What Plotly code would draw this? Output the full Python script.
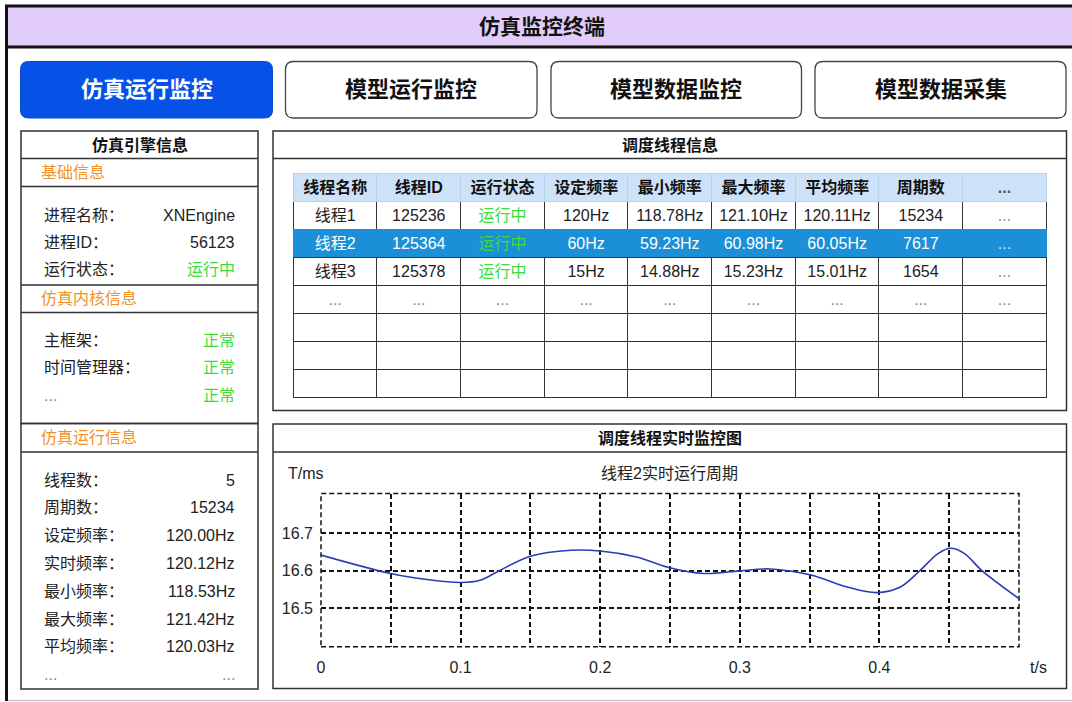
import plotly.graph_objects as go

W, H = 1072, 702
FONT = "Liberation Sans, Noto Sans CJK SC, sans-serif"

# ---------------- data ----------------
app_title = "仿真监控终端"
tabs = ["仿真运行监控", "模型运行监控", "模型数据监控", "模型数据采集"]

engine_title = "仿真引擎信息"
basic_title = "基础信息"
basic_labels = ["进程名称：", "进程ID：", "运行状态："]
basic_values = ["XNEngine", "56123", "运行中"]
kernel_title = "仿真内核信息"
kernel_labels = ["主框架：", "时间管理器：", "..."]
kernel_values = ["正常", "正常", "正常"]
run_title = "仿真运行信息"
run_labels = ["线程数：", "周期数：", "设定频率：", "实时频率：", "最小频率：", "最大频率：", "平均频率：", "..."]
run_values = ["5", "15234", "120.00Hz", "120.12Hz", "118.53Hz", "121.42Hz", "120.03Hz", "..."]

table_title = "调度线程信息"
columns = ["线程名称", "线程ID", "运行状态", "设定频率", "最小频率", "最大频率", "平均频率", "周期数", "..."]
thread_names = ["线程1", "线程2", "线程3", "...", "", "", ""]
thread_ids = ["125236", "125364", "125378", "...", "", "", ""]
thread_status = ["运行中", "运行中", "运行中", "...", "", "", ""]
set_freq = ["120Hz", "60Hz", "15Hz", "...", "", "", ""]
min_freq = ["118.78Hz", "59.23Hz", "14.88Hz", "...", "", "", ""]
max_freq = ["121.10Hz", "60.98Hz", "15.23Hz", "...", "", "", ""]
avg_freq = ["120.11Hz", "60.05Hz", "15.01Hz", "...", "", "", ""]
cycle_counts = ["15234", "7617", "1654", "...", "", "", ""]
more_cols = ["...", "...", "...", "...", "", "", ""]
selected_row = 1

chart_panel_title = "调度线程实时监控图"
chart_title = "线程2实时运行周期"
y_unit = "T/ms"
x_unit = "t/s"
t_s = [0.0, 0.05, 0.076, 0.1, 0.114, 0.126, 0.15, 0.179, 0.2, 0.226, 0.249,
       0.274, 0.3, 0.322, 0.351, 0.377, 0.398, 0.415, 0.428, 0.442, 0.451,
       0.461, 0.473, 0.5]
period_ms = [16.642, 16.593, 16.577, 16.569, 16.575, 16.597, 16.639, 16.655, 16.653, 16.637, 16.609,
             16.593, 16.600, 16.605, 16.589, 16.557, 16.542, 16.557, 16.597, 16.646, 16.660,
             16.646, 16.602, 16.526]
x_grid = [0, 0.05, 0.1, 0.15, 0.2, 0.25, 0.3, 0.35, 0.4, 0.45, 0.5]
x_ticktext = ["0", "", "0.1", "", "0.2", "", "0.3", "", "0.4", "", ""]
y_ticks = [16.5, 16.6, 16.7]
y_range = [16.398, 16.806]

# ---------------- colours ----------------
BLUE_TAB = "#0652e6"
LAVENDER = "#e2cdfa"
BORDER = "#333333"
ORANGE = "#f0922a"
GREEN = "#3cdc3c"
TEXT = "#222222"
GREY = "#8a8a8a"
HEAD_FILL = "#cde2f8"
SEL_FILL = "#1b8fd7"


def px(x):
    return x / W


def py(y):
    return 1 - y / H


shapes = []
annotations = []


def rect(x0, y0, x1, y1, line="#333", lw=1.5, fill=None):
    shapes.append(dict(type="rect", xref="paper", yref="paper",
                       x0=px(x0), x1=px(x1), y0=py(y1), y1=py(y0),
                       line=dict(color=line, width=lw),
                       fillcolor=fill if fill else "rgba(0,0,0,0)", layer="below"))


def hline(x0, x1, y, color="#333", lw=1.5):
    shapes.append(dict(type="line", xref="paper", yref="paper",
                       x0=px(x0), x1=px(x1), y0=py(y), y1=py(y),
                       line=dict(color=color, width=lw), layer="below"))


def vline(x, y0, y1, color="#333", lw=1.5):
    shapes.append(dict(type="line", xref="paper", yref="paper",
                       x0=px(x), x1=px(x), y0=py(y0), y1=py(y1),
                       line=dict(color=color, width=lw), layer="below"))


def rrect(x0, y0, x1, y1, r, fill, line, lw):
    def P(x, y):
        return f"{px(x):.6f},{py(y):.6f}"
    path = (f"M {P(x0 + r, y0)} L {P(x1 - r, y0)} Q {P(x1, y0)} {P(x1, y0 + r)} "
            f"L {P(x1, y1 - r)} Q {P(x1, y1)} {P(x1 - r, y1)} "
            f"L {P(x0 + r, y1)} Q {P(x0, y1)} {P(x0, y1 - r)} "
            f"L {P(x0, y0 + r)} Q {P(x0, y0)} {P(x0 + r, y0)} Z")
    shapes.append(dict(type="path", xref="paper", yref="paper", path=path,
                       fillcolor=fill, line=dict(color=line, width=lw), layer="below"))


def text(x, y, s, size=16, color=TEXT, anchor="left", bold=False):
    annotations.append(dict(xref="paper", yref="paper", x=px(x), y=py(y),
                            text=f"<b>{s}</b>" if bold else s, showarrow=False,
                            xanchor=anchor, yanchor="middle",
                            font=dict(family=FONT, size=size, color=color)))


# ---------- frame & title bar ----------
rect(6.5, 6, 1080, 47, line="#111", lw=3, fill=LAVENDER)
vline(6.5, 6, 701, color="#111", lw=3)
hline(8, 1072, 700.5, color="#c8c8c8", lw=1.5)
text(542, 27, app_title, size=21, color="#111", anchor="center", bold=True)

# ---------- tabs ----------
tab_x = [(20.5, 272.5), (285.5, 537), (551, 801.5), (815, 1066)]
for i, (name, (a, b)) in enumerate(zip(tabs, tab_x)):
    if i == 0:
        rrect(a, 61.5, b, 118, 8, BLUE_TAB, "#0a48c8", 1)
        text((a + b) / 2, 90, name, size=22, color="white", anchor="center", bold=True)
    else:
        rrect(a, 61.5, b, 118, 8, "white", "#444", 1.3)
        text((a + b) / 2, 90, name, size=22, color="#111", anchor="center", bold=True)

# ---------- left panel ----------
LX0, LX1 = 21, 258
VX = 237
rect(LX0, 131, LX1, 423.5)
rect(LX0, 423.5, LX1, 689)
text((LX0 + LX1) / 2, 144.5, engine_title, size=16, color="#111", anchor="center", bold=True)
hline(LX0, LX1, 158.5)
text(39, 173, basic_title, size=16, color=ORANGE)
hline(LX0, LX1, 186.5)
for i, (lab, val) in enumerate(zip(basic_labels, basic_values)):
    y = 215 + i * 27.3
    text(42, y, lab, size=16, color=TEXT)
    text(VX, y, val, size=16, color=GREEN if val == "运行中" else TEXT, anchor="right")
hline(LX0, LX1, 285)
text(39, 298, kernel_title, size=16, color=ORANGE)
hline(LX0, LX1, 312.5)
for i, (lab, val) in enumerate(zip(kernel_labels, kernel_values)):
    y = 340 + i * 27.5
    text(42, y, lab, size=16, color=GREY if lab == "..." else TEXT)
    text(VX, y, val, size=16, color=GREEN, anchor="right")
text(39, 437, run_title, size=16, color=ORANGE)
hline(LX0, LX1, 452)
for i, (lab, val) in enumerate(zip(run_labels, run_values)):
    y = 480 + i * 27.8
    c = GREY if val == "..." else TEXT
    text(42, y, lab, size=16, color=GREY if lab == "..." else TEXT)
    text(VX, y, val, size=16, color=c, anchor="right")

# ---------- right panels ----------
RX0, RX1 = 273, 1066.5
rect(RX0, 131, RX1, 410.5)
hline(RX0, RX1, 158.5)
text((RX0 + RX1) / 2, 144.5, table_title, size=16, color="#111", anchor="center", bold=True)

rect(RX0, 424, RX1, 688.5)
hline(RX0, RX1, 452)
text((RX0 + RX1) / 2, 437.5, chart_panel_title, size=16, color="#111", anchor="center", bold=True)
text(286, 473, y_unit, size=16, color=TEXT)
text((RX0 + RX1) / 2, 473, chart_title, size=16, color=TEXT, anchor="center")
text(1038, 667.5, x_unit, size=16, color=TEXT, anchor="center")

# ---------- table ----------
col_values = [thread_names, thread_ids, thread_status, set_freq, min_freq,
              max_freq, avg_freq, cycle_counts, more_cols]
fill_grid, font_grid, line_grid = [], [], []
for j, col in enumerate(col_values):
    f, c, l = [], [], []
    for i, v in enumerate(col):
        sel = i == selected_row
        f.append(SEL_FILL if sel else "white")
        l.append(SEL_FILL if sel else BORDER)
        if v == "...":
            c.append("#cfe6f6" if sel else GREY)
        elif v == "运行中":
            c.append(GREEN)
        else:
            c.append("white" if sel else TEXT)
    fill_grid.append(f)
    font_grid.append(c)
    line_grid.append(l)

header_colors = ["#111"] * (len(columns) - 1) + ["#555"]

table = go.Table(
    domain=dict(x=[px(293.3), px(1047)], y=[py(400), py(173.3)]),
    columnwidth=[1] * len(columns),
    header=dict(values=columns, height=28,
                fill=dict(color=HEAD_FILL), line=dict(color="#b9d2ec", width=1),
                align="center",
                font=dict(family=FONT, size=16, color=header_colors, weight="bold")),
    cells=dict(values=col_values, height=28,
               fill=dict(color=fill_grid), line=dict(color=line_grid, width=1),
               align="center", font=dict(family=FONT, size=16, color=font_grid)),
)

# ---------- chart ----------
curve = go.Scatter(x=t_s, y=period_ms, mode="lines",
                   line=dict(color="#2a3cb4", width=1.6, shape="spline", smoothing=1),
                   hoverinfo="skip", showlegend=False)

shapes.append(dict(type="rect", xref="x domain", yref="y domain", x0=0, x1=1, y0=0, y1=1,
                   line=dict(color="#111", width=1.5, dash="5px,3px"), layer="below"))

fig = go.Figure([table, curve])
fig.update_layout(
    width=W, height=H, margin=dict(l=0, r=0, t=0, b=0, autoexpand=False),
    paper_bgcolor="white", plot_bgcolor="rgba(0,0,0,0)",
    font=dict(family=FONT, size=16, color=TEXT),
    showlegend=False,
    xaxis=dict(domain=[px(321), px(1019)], range=[0, 0.5], tickvals=x_grid, ticktext=x_ticktext,
               showgrid=True, gridcolor="#111", gridwidth=1.5, griddash="5px,3px",
               zeroline=False, showline=False, ticks="", ticklabelstandoff=9, automargin=False,
               tickfont=dict(family=FONT, size=16, color=TEXT), fixedrange=True),
    yaxis=dict(domain=[py(646.7), py(493.5)], range=y_range, tickvals=y_ticks,
               ticktext=[f"{v:.1f}" for v in y_ticks],
               showgrid=True, gridcolor="#111", gridwidth=1.5, griddash="5px,3px",
               zeroline=False, showline=False, ticks="", ticklabelstandoff=7, automargin=False,
               tickfont=dict(family=FONT, size=16, color=TEXT), fixedrange=True),
    shapes=shapes, annotations=annotations,
)

fig.write_html("out.html", config={"displayModeBar": False},
               post_script="document.body.style.margin='0';document.body.style.overflow='hidden';")
